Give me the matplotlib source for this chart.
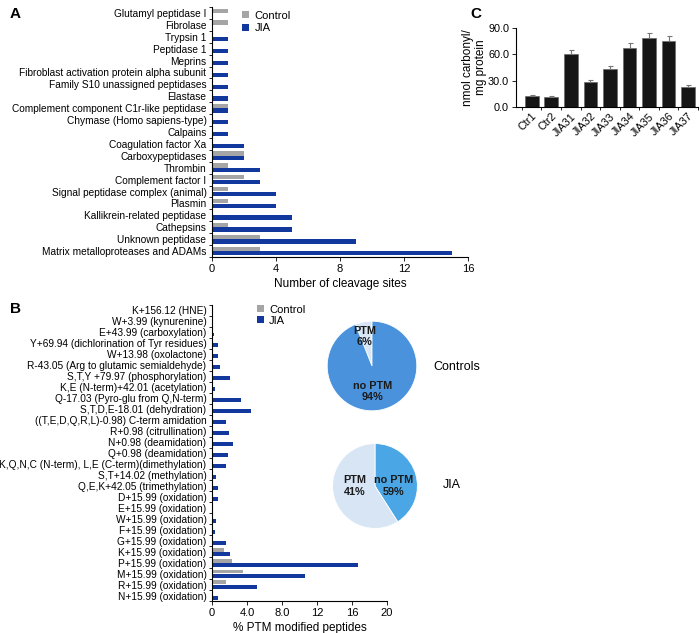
import matplotlib
matplotlib.use("Agg")
import matplotlib.pyplot as plt
import numpy as np

plt.rcParams['font.family'] = ['Liberation Sans', 'DejaVu Sans']
plt.rcParams['axes.linewidth'] = 0.8

GRAY = "#A5A5A5"
BLUE = "#12389E"
PIE_BLUE1 = "#4A93DC"
PIE_BLUE2 = "#4AA6E4"
PIE_LIGHT = "#D7E5F5"

# panel A: cleavage sites per protease family
peptidases = [
    "Glutamyl peptidase I", "Fibrolase", "Trypsin 1", "Peptidase 1", "Meprins",
    "Fibroblast activation protein alpha subunit", "Family S10 unassigned peptidases",
    "Elastase", "Complement component C1r-like peptidase", "Chymase (Homo sapiens-type)",
    "Calpains", "Coagulation factor Xa", "Carboxypeptidases", "Thrombin",
    "Complement factor I", "Signal peptidase complex (animal)", "Plasmin",
    "Kallikrein-related peptidase", "Cathepsins", "Unknown peptidase",
    "Matrix metalloproteases and ADAMs",
]
ctrl_sites = [1, 1, 0, 0, 0, 0, 0, 0, 1, 0, 0, 0, 2, 1, 2, 1, 1, 0, 1, 3, 3]
jia_sites = [0, 0, 1, 1, 1, 1, 1, 1, 1, 1, 1, 2, 2, 3, 3, 4, 4, 5, 5, 9, 15]

# panel B: % PTM modified peptides
ptm_names = [
    "K+156.12 (HNE)", "W+3.99 (kynurenine)", "E+43.99 (carboxylation)",
    "Y+69.94 (dichlorination of Tyr residues)", "W+13.98 (oxolactone)",
    "R-43.05 (Arg to glutamic semialdehyde)", "S,T,Y +79.97 (phosphorylation)",
    "K,E (N-term)+42.01 (acetylation)", "Q-17.03 (Pyro-glu from Q,N-term)",
    "S,T,D,E-18.01 (dehydration)", "((T,E,D,Q,R,L)-0.98) C-term amidation",
    "R+0.98 (citrullination)", "N+0.98 (deamidation)", "Q+0.98 (deamidation)",
    "K,Q,N,C (N-term), L,E (C-term)(dimethylation)", "S,T+14.02 (methylation)",
    "Q,E,K+42.05 (trimethylation)", "D+15.99 (oxidation)", "E+15.99 (oxidation)",
    "W+15.99 (oxidation)", "F+15.99 (oxidation)", "G+15.99 (oxidation)",
    "K+15.99 (oxidation)", "P+15.99 (oxidation)", "M+15.99 (oxidation)",
    "R+15.99 (oxidation)", "N+15.99 (oxidation)",
]
ptm_ctrl = [0, 0, 0, 0, 0, 0, 0, 0, 0, 0, 0, 0, 0, 0, 0, 0, 0, 0, 0, 0,
            0.15, 0, 1.33, 2.25, 3.5, 1.57, 0]
ptm_jia = [0.15, 0.15, 0.2, 0.69, 0.69, 0.95, 2.0, 0.3, 3.35, 4.4, 1.56, 1.94,
           2.44, 1.79, 1.56, 0.42, 0.65, 0.65, 0.15, 0.42, 0.38, 1.56, 2.0,
           16.7, 10.6, 5.1, 0.65]

# pies (wedge sizes as drawn, labels as printed)
ctrl_pie = [6, 94]
ctrl_pie_text = ["PTM\n6%", "no PTM\n94%"]
jia_pie = [41, 59]
jia_pie_text = ["no PTM\n59%", "PTM\n41%"]

# panel C: protein carbonyls
samples = ["Ctr1", "Ctr2", "JIA31", "JIA32", "JIA33", "JIA34", "JIA35", "JIA36", "JIA37"]
carbonyl = [12.9, 11.4, 60.4, 28.9, 43.3, 67.2, 78.2, 75.2, 22.8]
carbonyl_err = [1.1, 1.1, 4.9, 2.2, 3.8, 5.7, 6.5, 6.1, 1.9]

W, H = 700, 633
fig = plt.figure(figsize=(W / 100, H / 100), dpi=100)


def px_axes(left, top, right, bottom):
    return fig.add_axes([left / W, 1 - bottom / H, (right - left) / W, (bottom - top) / H])


def style_hbar(ax, n):
    ax.set_ylim(n - 0.5, -0.5)
    ax.spines['top'].set_visible(False)
    ax.spines['right'].set_visible(False)
    ax.tick_params(axis='y', which='major', length=0, pad=4)
    ax.set_yticks(np.arange(-0.5, n, 1), minor=True)
    ax.tick_params(axis='y', which='minor', length=2.5, width=0.6)
    ax.tick_params(axis='x', length=3, width=0.6, labelsize=8, pad=2)


# ---- A ----
axA = px_axes(212, 7, 468, 257)
y = np.arange(len(peptidases))
axA.barh(y - 0.19, ctrl_sites, height=0.36, color=GRAY, label="Control")
axA.barh(y + 0.19, jia_sites, height=0.36, color=BLUE, label="JIA")
style_hbar(axA, len(peptidases))
axA.set_yticks(y)
axA.set_yticklabels(peptidases, fontsize=7.3)
axA.set_xlim(0, 16)
axA.set_xticks([0, 4, 8, 12, 16])
axA.set_xlabel("Number of cleavage sites", fontsize=8.5, labelpad=3)
axA.legend(loc='upper left', bbox_to_anchor=(0.08, 1.025), frameon=False, fontsize=8,
           handlelength=0.6, handleheight=0.6, handletextpad=0.5, labelspacing=0.2)

# ---- B ----
axB = px_axes(212, 305, 387, 601)
y = np.arange(len(ptm_names))
axB.barh(y - 0.19, ptm_ctrl, height=0.36, color=GRAY, label="Control")
axB.barh(y + 0.19, ptm_jia, height=0.36, color=BLUE, label="JIA")
style_hbar(axB, len(ptm_names))
axB.set_yticks(y)
axB.set_yticklabels(ptm_names, fontsize=7.3)
axB.set_xlim(0, 20)
axB.set_xticks([0, 4, 8, 12, 16, 20])
axB.set_xticklabels(["0", "4.0", "8.0", "12", "16", "20"])
axB.set_xlabel("% PTM modified peptides", fontsize=8.5, labelpad=3)
axB.legend(loc='upper left', bbox_to_anchor=(0.2, 1.035), frameon=False, fontsize=8,
           handlelength=0.6, handleheight=0.6, handletextpad=0.5, labelspacing=0.1)

# ---- pies ----
axP1 = px_axes(316, 310, 428, 422)
axP1.pie(ctrl_pie, colors=[PIE_LIGHT, PIE_BLUE1], startangle=90, counterclock=True,
         wedgeprops=dict(linewidth=0.6, edgecolor='white'))
axP1.text(-0.16, 0.66, ctrl_pie_text[0], ha='center', va='center', fontsize=7.8,
          fontweight='bold', color='#1a1a1a', linespacing=1.15)
axP1.text(0.02, -0.57, ctrl_pie_text[1], ha='center', va='center', fontsize=7.8,
          fontweight='bold', color='#1a1a1a', linespacing=1.15)

axP2 = px_axes(322, 433, 428, 539)
axP2.pie(jia_pie, colors=[PIE_BLUE2, PIE_LIGHT], startangle=90, counterclock=False,
         wedgeprops=dict(linewidth=0.6, edgecolor='white'))
axP2.text(0.44, 0.0, jia_pie_text[0], ha='center', va='center', fontsize=7.8,
          fontweight='bold', color='#1a1a1a', linespacing=1.15)
axP2.text(-0.47, 0.0, jia_pie_text[1], ha='center', va='center', fontsize=7.8,
          fontweight='bold', color='#1a1a1a', linespacing=1.15)

fig.text(433 / W, 1 - 367 / H, "Controls", fontsize=9, va='center', ha='left')
fig.text(443 / W, 1 - 485 / H, "JIA", fontsize=9, va='center', ha='left')

# ---- C ----
axC = px_axes(516, 28, 698, 107)
x = np.arange(len(samples))
axC.bar(x, carbonyl, width=0.7, color='#151515', edgecolor='#6a6a6a', linewidth=0.5)
axC.errorbar(x, carbonyl, yerr=[np.zeros(len(x)), carbonyl_err], fmt='none',
             ecolor='#777777', elinewidth=0.8, capsize=1.8, capthick=0.8)
axC.set_xlim(-0.8, 8.5)
axC.set_ylim(0, 90)
axC.set_yticks([0, 30, 60, 90])
axC.set_yticklabels(["0.0", "30.0", "60.0", "90.0"])
axC.spines['top'].set_visible(False)
axC.spines['right'].set_visible(False)
axC.tick_params(axis='y', length=3, width=0.6, labelsize=7.8, pad=2)
axC.set_xticks(x)
axC.set_xticklabels(samples, rotation=45, ha='right', rotation_mode='anchor', fontsize=7.8)
axC.tick_params(axis='x', which='major', length=0, pad=3)
axC.set_xticks(np.arange(-0.5, 8.6, 1), minor=True)
axC.tick_params(axis='x', which='minor', length=2, width=0.6)
axC.set_ylabel("nmol carbonyl/\nmg protein", fontsize=8.5, labelpad=1, linespacing=1.1)

# panel letters
fig.text(10 / W, 1 - 14 / H, "A", fontsize=11, fontweight='bold', va='center')
fig.text(10 / W, 1 - 309 / H, "B", fontsize=11, fontweight='bold', va='center')
fig.text(470 / W, 1 - 14 / H, "C", fontsize=11, fontweight='bold', va='center')

fig.savefig("out.png", dpi=100)
